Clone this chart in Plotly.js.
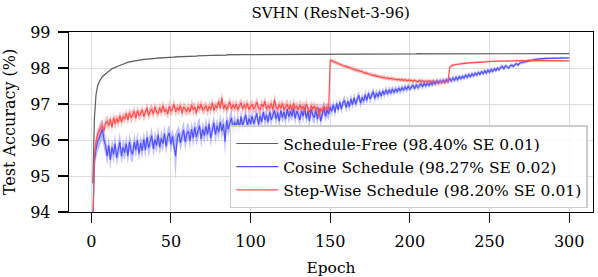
<!DOCTYPE html>
<html><head><meta charset="utf-8">
<script src="https://cdn.plot.ly/plotly-3.0.1.min.js"></script>
<style>html,body{margin:0;padding:0;background:#fff}#chart{width:598px;height:277px}</style>
</head><body><div id="chart"></div>
<script>
// Epochs 1..300
const epochs = [];
for (let i = 1; i <= 300; i++) epochs.push(i);

// Schedule-Free test accuracy (%)
const scheduleFree = [
94.80,96.60,97.25,97.50,97.62,97.70,97.76,97.80,97.84,97.88,
97.92,97.95,97.98,98.00,98.02,98.04,98.06,98.08,98.10,98.12,
98.14,98.15,98.16,98.17,98.18,98.19,98.20,98.21,98.22,98.22,
98.23,98.23,98.24,98.24,98.25,98.25,98.26,98.26,98.26,98.27,
98.27,98.27,98.28,98.28,98.28,98.29,98.29,98.29,98.30,98.30,
98.30,98.30,98.31,98.31,98.31,98.31,98.32,98.32,98.32,98.32,
98.32,98.33,98.33,98.33,98.33,98.33,98.34,98.34,98.34,98.34,
98.34,98.34,98.35,98.35,98.35,98.35,98.35,98.35,98.36,98.36,
98.36,98.36,98.36,98.36,98.36,98.37,98.37,98.37,98.37,98.37,
98.37,98.37,98.37,98.38,98.38,98.38,98.38,98.38,98.38,98.38,
98.38,98.38,98.39,98.38,98.38,98.39,98.38,98.39,98.39,98.38,
98.39,98.39,98.38,98.39,98.39,98.39,98.38,98.39,98.39,98.39,
98.39,98.39,98.39,98.38,98.39,98.39,98.39,98.39,98.39,98.39,
98.39,98.38,98.39,98.39,98.39,98.39,98.39,98.38,98.39,98.39,
98.39,98.39,98.39,98.39,98.38,98.39,98.39,98.39,98.39,98.39,
98.39,98.39,98.39,98.39,98.39,98.38,98.39,98.39,98.39,98.39,
98.39,98.39,98.39,98.39,98.39,98.39,98.39,98.39,98.38,98.39,
98.39,98.39,98.39,98.39,98.39,98.39,98.39,98.39,98.39,98.39,
98.39,98.38,98.39,98.39,98.39,98.39,98.39,98.39,98.39,98.39,
98.39,98.39,98.39,98.39,98.39,98.39,98.39,98.39,98.39,98.39,
98.39,98.39,98.39,98.39,98.40,98.39,98.39,98.39,98.39,98.39,
98.39,98.39,98.39,98.40,98.39,98.39,98.39,98.39,98.40,98.39,
98.39,98.40,98.39,98.39,98.39,98.40,98.39,98.39,98.40,98.39,
98.40,98.39,98.39,98.40,98.39,98.40,98.39,98.40,98.39,98.40,
98.39,98.40,98.40,98.39,98.40,98.40,98.39,98.40,98.40,98.40,
98.40,98.39,98.40,98.40,98.40,98.40,98.40,98.39,98.40,98.40,
98.40,98.40,98.40,98.40,98.40,98.40,98.40,98.40,98.40,98.40,
98.40,98.40,98.40,98.40,98.40,98.40,98.40,98.40,98.40,98.40,
98.40,98.40,98.40,98.40,98.41,98.40,98.40,98.40,98.40,98.40,
98.40,98.40,98.41,98.40,98.40,98.40,98.41,98.40,98.40,98.40
];
const scheduleFreeSE = [
0.10,0.08,0.05,0.04,0.03,0.03,0.03,0.02,0.02,0.02,
0.02,0.02,0.02,0.02,0.02,0.02,0.02,0.02,0.02,0.02,
0.02,0.02,0.02,0.02,0.02,0.02,0.02,0.02,0.02,0.02,
0.02,0.02,0.02,0.02,0.02,0.02,0.02,0.02,0.02,0.02,
0.02,0.02,0.02,0.02,0.02,0.02,0.02,0.02,0.02,0.02,
0.02,0.02,0.02,0.02,0.02,0.02,0.02,0.02,0.02,0.02,
0.02,0.02,0.02,0.02,0.02,0.02,0.02,0.02,0.02,0.02,
0.02,0.02,0.02,0.02,0.02,0.02,0.02,0.02,0.02,0.02,
0.02,0.02,0.02,0.02,0.02,0.02,0.02,0.02,0.02,0.02,
0.02,0.02,0.02,0.02,0.02,0.02,0.02,0.02,0.02,0.02,
0.01,0.01,0.01,0.01,0.01,0.01,0.01,0.01,0.01,0.01,
0.01,0.01,0.01,0.01,0.01,0.01,0.01,0.01,0.01,0.01,
0.01,0.01,0.01,0.01,0.01,0.01,0.01,0.01,0.01,0.01,
0.01,0.01,0.01,0.01,0.01,0.01,0.01,0.01,0.01,0.01,
0.01,0.01,0.01,0.01,0.01,0.01,0.01,0.01,0.01,0.01,
0.01,0.01,0.01,0.01,0.01,0.01,0.01,0.01,0.01,0.01,
0.01,0.01,0.01,0.01,0.01,0.01,0.01,0.01,0.01,0.01,
0.01,0.01,0.01,0.01,0.01,0.01,0.01,0.01,0.01,0.01,
0.01,0.01,0.01,0.01,0.01,0.01,0.01,0.01,0.01,0.01,
0.01,0.01,0.01,0.01,0.01,0.01,0.01,0.01,0.01,0.01,
0.01,0.01,0.01,0.01,0.01,0.01,0.01,0.01,0.01,0.01,
0.01,0.01,0.01,0.01,0.01,0.01,0.01,0.01,0.01,0.01,
0.01,0.01,0.01,0.01,0.01,0.01,0.01,0.01,0.01,0.01,
0.01,0.01,0.01,0.01,0.01,0.01,0.01,0.01,0.01,0.01,
0.01,0.01,0.01,0.01,0.01,0.01,0.01,0.01,0.01,0.01,
0.01,0.01,0.01,0.01,0.01,0.01,0.01,0.01,0.01,0.01,
0.01,0.01,0.01,0.01,0.01,0.01,0.01,0.01,0.01,0.01,
0.01,0.01,0.01,0.01,0.01,0.01,0.01,0.01,0.01,0.01,
0.01,0.01,0.01,0.01,0.01,0.01,0.01,0.01,0.01,0.01,
0.01,0.01,0.01,0.01,0.01,0.01,0.01,0.01,0.01,0.01
];

// Cosine schedule test accuracy (%)
const cosine = [
93.60,95.40,95.75,95.95,96.05,96.20,96.30,96.00,95.85,95.55,
95.85,95.45,95.80,95.60,95.90,95.50,95.75,95.95,95.55,95.80,
95.65,95.90,95.55,95.95,95.70,95.60,95.95,95.72,96.00,95.62,
95.92,95.70,96.02,95.72,96.08,95.78,95.95,96.12,95.75,96.02,
95.85,96.15,95.80,96.05,95.90,96.18,95.82,96.10,96.20,95.88,
96.10,95.85,95.55,96.05,96.20,95.92,96.12,96.28,95.95,96.18,
96.25,95.98,96.30,96.05,96.35,96.08,96.25,96.40,96.02,96.30,
96.12,96.38,96.15,96.45,96.05,96.30,96.48,96.15,96.40,96.22,
96.50,96.25,96.45,95.95,96.55,96.30,96.48,96.62,96.30,96.50,
96.35,96.58,96.32,96.65,96.40,96.55,96.70,96.38,96.60,96.45,
96.66,96.45,96.62,96.74,96.42,96.68,96.50,96.78,96.55,96.70,
96.50,96.78,96.56,96.72,96.82,96.58,96.76,96.52,96.82,96.62,
96.78,96.58,96.86,96.64,96.80,96.66,96.88,96.60,96.80,96.70,
96.56,96.82,96.66,96.90,96.60,96.80,96.52,96.86,96.70,96.62,
96.82,96.58,96.88,96.52,96.76,96.90,96.66,96.84,96.72,96.92,
96.80,96.98,96.76,97.02,96.84,97.06,96.86,97.04,97.10,96.90,
97.08,96.92,97.14,96.98,97.18,97.00,97.14,97.24,97.02,97.18,
97.08,97.26,97.10,97.30,97.14,97.26,97.34,97.16,97.30,97.20,
97.34,97.22,97.36,97.26,97.40,97.28,97.40,97.30,97.42,97.32,
97.42,97.34,97.44,97.36,97.46,97.38,97.48,97.40,97.50,97.42,
97.46,97.52,97.42,97.54,97.46,97.50,97.56,97.48,97.58,97.50,
97.58,97.52,97.60,97.54,97.62,97.56,97.64,97.58,97.64,97.60,
97.66,97.60,97.68,97.62,97.70,97.64,97.72,97.66,97.74,97.68,
97.76,97.70,97.77,97.72,97.80,97.74,97.82,97.76,97.84,97.78,
97.86,97.80,97.88,97.82,97.90,97.84,97.92,97.86,97.94,97.88,
97.96,97.90,97.98,97.93,98.00,97.95,98.02,98.04,97.98,98.06,
98.04,98.00,98.06,98.08,98.04,98.10,98.12,98.08,98.14,98.15,
98.15,98.17,98.18,98.20,98.21,98.22,98.23,98.24,98.24,98.25,
98.25,98.26,98.26,98.26,98.27,98.27,98.27,98.27,98.28,98.28,
98.28,98.28,98.28,98.28,98.28,98.28,98.28,98.28,98.28,98.28
];
const cosineSE = [
0.05,0.25,0.30,0.30,0.30,0.30,0.28,0.25,0.28,0.25,
0.25,0.28,0.22,0.25,0.28,0.22,0.25,0.28,0.22,0.25,
0.22,0.25,0.22,0.25,0.28,0.22,0.25,0.22,0.25,0.22,
0.22,0.25,0.22,0.25,0.22,0.28,0.22,0.25,0.22,0.25,
0.22,0.25,0.22,0.25,0.22,0.25,0.22,0.25,0.22,0.25,
0.22,0.25,0.65,0.25,0.22,0.25,0.22,0.25,0.22,0.25,
0.22,0.25,0.22,0.25,0.22,0.25,0.30,0.22,0.25,0.22,
0.22,0.25,0.22,0.22,0.25,0.22,0.22,0.25,0.22,0.22,
0.22,0.25,0.22,0.40,0.25,0.22,0.22,0.25,0.22,0.22,
0.18,0.20,0.18,0.20,0.18,0.20,0.18,0.20,0.18,0.20,
0.18,0.15,0.20,0.18,0.15,0.20,0.18,0.15,0.20,0.18,
0.15,0.20,0.18,0.15,0.20,0.18,0.15,0.20,0.18,0.15,
0.20,0.18,0.15,0.20,0.18,0.15,0.20,0.18,0.15,0.20,
0.18,0.15,0.20,0.18,0.15,0.20,0.18,0.15,0.20,0.18,
0.15,0.20,0.18,0.15,0.20,0.18,0.15,0.20,0.18,0.15,
0.14,0.12,0.14,0.12,0.14,0.12,0.14,0.12,0.14,0.12,
0.14,0.12,0.14,0.12,0.14,0.12,0.14,0.12,0.14,0.12,
0.12,0.14,0.12,0.12,0.14,0.12,0.12,0.14,0.12,0.12,
0.11,0.10,0.11,0.10,0.11,0.10,0.11,0.10,0.11,0.10,
0.10,0.09,0.10,0.09,0.10,0.09,0.10,0.09,0.10,0.09,
0.09,0.09,0.09,0.09,0.09,0.09,0.09,0.09,0.09,0.09,
0.09,0.08,0.09,0.08,0.09,0.08,0.09,0.08,0.09,0.08,
0.08,0.08,0.08,0.08,0.08,0.08,0.08,0.08,0.08,0.08,
0.07,0.07,0.07,0.07,0.07,0.07,0.07,0.07,0.07,0.07,
0.06,0.07,0.06,0.07,0.06,0.07,0.06,0.07,0.06,0.07,
0.06,0.06,0.06,0.06,0.06,0.06,0.06,0.06,0.06,0.06,
0.05,0.05,0.05,0.05,0.05,0.05,0.05,0.05,0.05,0.05,
0.04,0.04,0.04,0.04,0.04,0.04,0.04,0.04,0.04,0.04,
0.03,0.03,0.03,0.03,0.03,0.03,0.03,0.03,0.03,0.03,
0.02,0.02,0.02,0.02,0.02,0.02,0.02,0.02,0.02,0.02
];

// Step-wise schedule test accuracy (%)
const stepWise = [
93.60,95.55,95.95,96.15,96.25,96.35,96.40,96.25,96.48,96.52,
96.40,96.58,96.35,96.62,96.45,96.60,96.48,96.68,96.50,96.65,
96.58,96.74,96.55,96.76,96.62,96.70,96.80,96.60,96.82,96.68,
96.72,96.84,96.65,96.78,96.90,96.68,96.80,96.86,96.72,96.92,
96.78,96.74,96.90,96.76,96.96,96.78,96.86,96.72,96.94,96.80,
96.86,97.00,96.78,96.90,96.82,96.96,96.74,96.92,96.86,96.80,
96.90,96.78,96.98,96.84,96.92,96.74,96.96,96.86,97.00,96.82,
96.88,96.96,96.80,96.94,96.84,97.04,96.82,96.96,96.88,97.08,
96.88,97.18,96.86,96.98,96.84,96.94,97.06,96.86,96.98,96.88,
97.00,96.84,96.94,97.04,96.86,96.98,96.88,97.02,96.84,96.94,
96.98,96.86,96.94,97.06,96.88,96.84,97.00,96.92,97.08,96.86,
96.96,96.88,97.02,96.84,97.12,96.92,96.86,96.98,96.88,97.02,
96.84,96.94,97.00,96.86,96.98,96.82,97.02,96.88,96.94,96.84,
96.98,96.86,96.94,96.80,97.00,96.88,96.76,96.96,96.86,96.94,
96.82,96.92,96.66,96.88,96.78,96.94,96.84,96.92,96.82,98.22,
98.20,98.17,98.16,98.13,98.12,98.10,98.08,98.07,98.05,98.05,
98.02,98.02,97.99,97.98,97.96,97.95,97.93,97.92,97.90,97.90,
97.87,97.87,97.85,97.84,97.82,97.82,97.79,97.80,97.77,97.77,
97.75,97.76,97.73,97.74,97.71,97.73,97.70,97.71,97.70,97.69,
97.70,97.67,97.69,97.66,97.68,97.65,97.68,97.64,97.67,97.65,
97.66,97.63,97.66,97.64,97.62,97.66,97.63,97.65,97.61,97.64,
97.62,97.65,97.61,97.64,97.62,97.60,97.64,97.61,97.63,97.60,
97.63,97.61,97.64,97.62,98.02,98.06,98.08,98.09,98.10,98.11,
98.11,98.12,98.12,98.13,98.13,98.14,98.14,98.14,98.15,98.15,
98.15,98.16,98.16,98.16,98.17,98.17,98.17,98.17,98.18,98.18,
98.18,98.18,98.19,98.19,98.19,98.19,98.19,98.20,98.20,98.20,
98.20,98.20,98.20,98.20,98.20,98.20,98.21,98.20,98.20,98.21,
98.20,98.21,98.20,98.21,98.21,98.20,98.21,98.21,98.20,98.21,
98.21,98.20,98.21,98.21,98.20,98.21,98.21,98.20,98.21,98.20,
98.21,98.20,98.21,98.20,98.21,98.20,98.20,98.21,98.20,98.20
];
const stepWiseSE = [
0.05,0.22,0.22,0.18,0.18,0.18,0.16,0.16,0.16,0.16,
0.15,0.13,0.15,0.13,0.18,0.13,0.15,0.13,0.15,0.13,
0.15,0.13,0.15,0.13,0.18,0.13,0.15,0.13,0.15,0.13,
0.15,0.13,0.15,0.13,0.15,0.13,0.18,0.13,0.15,0.13,
0.15,0.13,0.15,0.13,0.15,0.13,0.15,0.13,0.18,0.13,
0.15,0.13,0.15,0.13,0.15,0.13,0.15,0.13,0.15,0.13,
0.15,0.13,0.15,0.18,0.15,0.13,0.15,0.13,0.15,0.13,
0.15,0.13,0.15,0.13,0.15,0.13,0.15,0.13,0.15,0.13,
0.15,0.18,0.15,0.13,0.15,0.13,0.15,0.13,0.15,0.13,
0.15,0.13,0.15,0.13,0.15,0.13,0.15,0.13,0.15,0.13,
0.15,0.13,0.15,0.13,0.15,0.13,0.15,0.13,0.15,0.13,
0.15,0.13,0.15,0.13,0.18,0.13,0.15,0.13,0.15,0.13,
0.15,0.13,0.15,0.13,0.15,0.13,0.15,0.13,0.15,0.13,
0.15,0.13,0.15,0.13,0.15,0.13,0.15,0.13,0.15,0.13,
0.15,0.13,0.15,0.13,0.15,0.13,0.15,0.13,0.15,0.05,
0.05,0.05,0.05,0.05,0.05,0.05,0.05,0.05,0.05,0.05,
0.05,0.06,0.05,0.06,0.05,0.06,0.05,0.06,0.05,0.06,
0.05,0.06,0.05,0.06,0.05,0.06,0.05,0.06,0.05,0.06,
0.05,0.06,0.05,0.06,0.05,0.06,0.05,0.06,0.05,0.06,
0.05,0.06,0.05,0.06,0.05,0.06,0.05,0.06,0.05,0.06,
0.05,0.06,0.05,0.06,0.05,0.06,0.05,0.06,0.05,0.06,
0.05,0.06,0.05,0.06,0.05,0.06,0.05,0.06,0.05,0.06,
0.05,0.06,0.05,0.06,0.04,0.03,0.03,0.03,0.03,0.03,
0.03,0.03,0.03,0.03,0.03,0.03,0.03,0.03,0.03,0.03,
0.03,0.03,0.03,0.03,0.03,0.03,0.03,0.03,0.03,0.03,
0.02,0.02,0.02,0.02,0.02,0.02,0.02,0.02,0.02,0.02,
0.02,0.02,0.02,0.02,0.02,0.02,0.02,0.02,0.02,0.02,
0.02,0.02,0.02,0.02,0.02,0.02,0.02,0.02,0.02,0.02,
0.02,0.02,0.02,0.02,0.02,0.02,0.02,0.02,0.02,0.02,
0.02,0.02,0.02,0.02,0.02,0.02,0.02,0.02,0.02,0.02
];

const seriesNames = [
  "Schedule-Free (98.40% SE 0.01)",
  "Cosine Schedule (98.27% SE 0.02)",
  "Step-Wise Schedule (98.20% SE 0.01)"
];
const xTicks = [0, 50, 100, 150, 200, 250, 300];
const yTicks = [94, 95, 96, 97, 98, 99];

const FONT = "DejaVu Serif";
const series = [
  {y: scheduleFree, se: scheduleFreeSE, line: "rgb(95,95,95)", band: "rgba(95,95,95,0.25)"},
  {y: cosine, se: cosineSE, line: "rgb(80,80,255)", band: "rgba(110,110,255,0.45)"},
  {y: stepWise, se: stepWiseSE, line: "rgb(255,80,80)", band: "rgba(255,110,110,0.45)"}
];

const traces = [];
series.forEach((s) => {
  const up = s.y.map((v, i) => v + s.se[i]);
  const lo = s.y.map((v, i) => v - s.se[i]);
  traces.push({
    x: epochs.concat(epochs.slice().reverse()),
    y: up.concat(lo.slice().reverse()),
    type: "scatter", mode: "lines", fill: "toself",
    fillcolor: s.band, line: {width: 0, color: s.band},
    hoverinfo: "skip", showlegend: false
  });
});
series.forEach((s, k) => {
  traces.push({
    x: epochs, y: s.y, type: "scatter", mode: "lines",
    name: seriesNames[k], line: {color: s.line, width: 1.2}
  });
});

const layout = {
  width: 598, height: 277,
  margin: {l: 69, r: 5, t: 32, b: 65},
  paper_bgcolor: "#fff", plot_bgcolor: "#fff",
  font: {family: FONT, size: 15, color: "#000"},
  title: {text: "SVHN (ResNet-3-96)", font: {family: FONT, size: 15}, x: 0.553, xanchor: "center", y: 0.955, yanchor: "middle"},
  showlegend: true,
  legend: {
    x: 0.99, xanchor: "right", y: 0.02, yanchor: "bottom",
    bgcolor: "rgba(255,255,255,0.85)", bordercolor: "#cccccc", borderwidth: 1.5,
    itemwidth: 42,
    font: {family: FONT, size: 15.5, color: "#000"}
  },
  xaxis: {
    range: [-13.95, 314.95], tickvals: xTicks, ticktext: xTicks.map(String),
    showgrid: true, gridcolor: "#dddddd", gridwidth: 1,
    showline: true, linecolor: "#000", linewidth: 1.3, mirror: true,
    ticks: "outside", ticklen: 10, tickwidth: 1.1, tickcolor: "#000",
    ticklabelstandoff: 4,
    zeroline: false, tickfont: {family: FONT, size: 16},
    title: {text: "Epoch", font: {family: FONT, size: 15.5}, standoff: 14}
  },
  yaxis: {
    range: [94, 99], tickvals: yTicks, ticktext: yTicks.map(String),
    showgrid: true, gridcolor: "#dddddd", gridwidth: 1,
    showline: true, linecolor: "#000", linewidth: 1.3, mirror: true,
    ticks: "outside", ticklen: 10, tickwidth: 1.1, tickcolor: "#000",
    ticklabelstandoff: 4,
    zeroline: false, tickfont: {family: FONT, size: 16},
    title: {text: "Test Accuracy (%)", font: {family: FONT, size: 16}, standoff: 10}
  }
};

Plotly.newPlot("chart", traces, layout, {displayModeBar: false, staticPlot: true});
</script>
</body></html>
